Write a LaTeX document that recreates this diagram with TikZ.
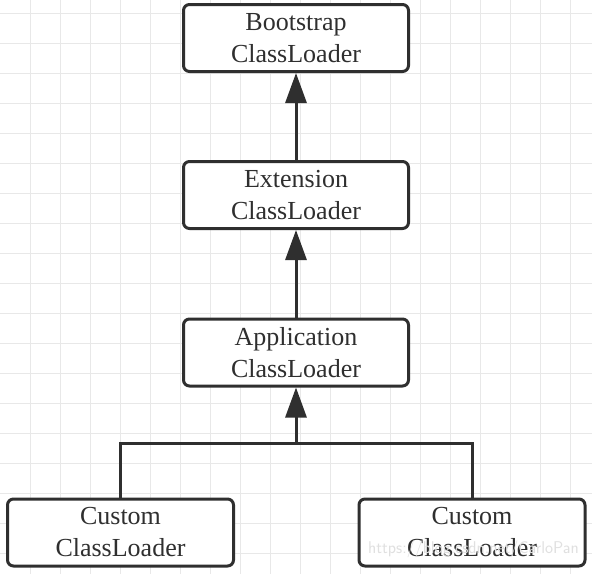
\documentclass[tikz,border=0pt]{standalone}
\usepackage{fontspec}
\setmainfont{Liberation Serif}
\usetikzlibrary{arrows.meta}
\definecolor{ink}{HTML}{2F2F2F}
\definecolor{gridc}{HTML}{E8E8E8}
\tikzset{
  loader/.style={draw=ink, line width=3pt, rounded corners=6pt, fill=white,
    minimum width=225pt, minimum height=67pt, inner sep=0pt, align=center,
    text=ink, font=\fontsize{26}{32}\selectfont},
  gridline/.style={draw=gridc, line width=1pt},
  conn/.style={draw=ink, line width=3pt},
  arr/.style={conn, -{Triangle[length=30pt,width=21pt]}}
}
\begin{document}
\begin{tikzpicture}[x=1pt,y=-1pt]
\useasboundingbox (0,0) rectangle (592,574);
\fill[white] (0,0) rectangle (592,574);
\foreach \x in {30,60,...,570} \draw[gridline] (\x,0) -- (\x,574);
\foreach \y in {13,43,...,553} \draw[gridline] (0,\y) -- (592,\y);

\node[loader] (boot) at (296,38) {Bootstrap\\ClassLoader};
\node[loader] (ext) at (296,195) {Extension\\ClassLoader};
\node[loader] (app) at (296,352.5) {Application\\ClassLoader};
\node[loader, minimum width=226pt] (cl) at (120.5,532.5) {Custom\\ClassLoader};
\node[loader, minimum width=226pt] (cr) at (472,532.5) {Custom\\ClassLoader};
\coordinate (bus) at (296,443);

\draw[arr] (ext.north) -- (boot.south);
\draw[arr] (app.north) -- (ext.south);
\draw[conn] (cl.north) |- (bus) -| (cr.north);
\draw[arr] (bus) -- (app.south);

\begin{scope}
\clip (0,0) rectangle (592,574);
\node[anchor=west, text=black!12, font=\fontfamily{lmss}\fontsize{17}{17}\selectfont, inner sep=0pt] (wm) at (368,549) {https://blog.csdn.net/CarloPan};
\end{scope}
\end{tikzpicture}
\end{document}
